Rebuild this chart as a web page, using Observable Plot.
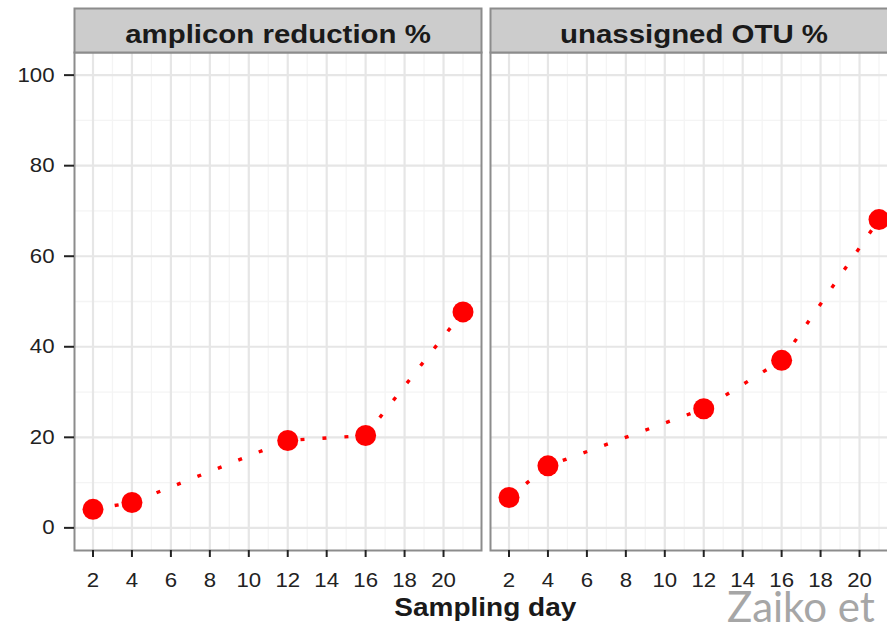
<!DOCTYPE html>
<html>
<head>
<meta charset="utf-8">
<script src="https://cdn.jsdelivr.net/npm/d3@7"></script>
<script src="https://cdn.jsdelivr.net/npm/@observablehq/plot@0.6"></script>
<style>
  body { margin: 0; background: #ffffff; }
  #wrap { position: relative; width: 887px; height: 625px; overflow: hidden; background: #ffffff; }
  #wrap svg { position: absolute; left: 0; top: 0; max-width: none !important; width: 900px; height: 625px; }
  .xlab { position: absolute; left: 0; width: 971px; top: 595px; text-align: center;
          font: bold 25px/25px "Liberation Sans", Arial, sans-serif; color: #1a1a1a; white-space: nowrap; }
  .xlab span { display: inline-block; transform: scaleX(1.12); }
  .src { position: absolute; left: 727px; top: 591px; font: 42px/30px Lato, "Open Sans", sans-serif;
         color: #a6a6a6; white-space: nowrap; }
</style>
</head>
<body>
<div id="wrap"></div>
<script>
// ---- data ----
const days = [2, 4, 12, 16, 21];
const ampliconReduction = [4.1, 5.6, 19.3, 20.4, 47.7];
const unassignedOTU = [6.7, 13.7, 26.3, 37.0, 68.1];
const panels = ["amplicon reduction %", "unassigned OTU %"];
const xTicks = [2, 4, 6, 8, 10, 12, 14, 16, 18, 20];
const xMinor = [3, 5, 7, 9, 11, 13, 15, 17, 19, 21];
const yTicks = [0, 20, 40, 60, 80, 100];
const yMinor = [10, 30, 50, 70, 90];
const xLabel = "Sampling day";
const sourceText = "Zaiko et";

const rows = [
  ...days.map((d, i) => ({day: d, value: ampliconReduction[i], panel: panels[0]})),
  ...days.map((d, i) => ({day: d, value: unassignedOTU[i], panel: panels[1]}))
];

const border = "#8c8c8c";
const chart = Plot.plot({
  width: 900,
  height: 625,
  marginLeft: 74,
  marginRight: 3,
  marginTop: 52,
  marginBottom: 75,
  style: {fontFamily: "'Liberation Sans', Arial, sans-serif", background: "transparent", overflow: "visible", maxWidth: "none"},
  fx: {domain: panels, paddingInner: 9 / 416, paddingOuter: 0, round: false, axis: null, label: null},
  x: {domain: [1.05, 21.95], label: null},
  y: {domain: [-5, 105], label: null},
  marks: [
    Plot.frame({fill: "#ffffff"}),
    Plot.gridX(xMinor, {stroke: "#f4f4f4", strokeWidth: 1.3, strokeOpacity: 1}),
    Plot.gridY(yMinor, {stroke: "#f4f4f4", strokeWidth: 1.3, strokeOpacity: 1}),
    Plot.gridX(xTicks, {stroke: "#e6e6e6", strokeWidth: 2.2, strokeOpacity: 1}),
    Plot.gridY(yTicks, {stroke: "#e6e6e6", strokeWidth: 2.2, strokeOpacity: 1}),
    Plot.frame({stroke: border, strokeWidth: 2}),
    Plot.frame({fill: "#cccccc", stroke: border, strokeWidth: 2, insetTop: -44, insetBottom: 498}),
    Plot.text(panels, {fx: d => d, text: d => d, frameAnchor: "top", lineAnchor: "middle", dy: -18,
      fontSize: 26.5, fontWeight: "bold", fill: "#1a1a1a"}),
    Plot.axisY({ticks: yTicks, tickSize: 10, tickPadding: 10, fontSize: 20, color: "#222222",
      strokeWidth: 2, label: null, tickFormat: d => String(d)}),
    Plot.axisX({ticks: xTicks, tickSize: 7, tickPadding: 15, fontSize: 20, color: "#222222",
      strokeWidth: 2, label: null, tickFormat: d => String(d)}),
    Plot.line(rows, {x: "day", y: "value", fx: "panel", z: "panel", stroke: "#ff0000",
      strokeWidth: 3.4, strokeDasharray: "4,18", strokeLinecap: "butt"}),
    Plot.dot(rows, {x: "day", y: "value", fx: "panel", r: 10.5, fill: "#ff0000", stroke: "none"})
  ]
});

const wrap = document.getElementById("wrap");
wrap.append(chart);

// widen glyphs slightly, as in the reference rendering
chart.querySelectorAll("text").forEach(t => {
  const L = t.getComputedTextLength();
  if (L > 0) {
    t.setAttribute("textLength", (L * 1.11).toFixed(2));
    t.setAttribute("lengthAdjust", "spacingAndGlyphs");
  }
});

const xl = document.createElement("div");
xl.className = "xlab";
const sp = document.createElement("span");
sp.textContent = xLabel;
xl.append(sp);
wrap.append(xl);

const src = document.createElement("div");
src.className = "src";
src.textContent = sourceText;
wrap.append(src);
</script>
</body>
</html>
